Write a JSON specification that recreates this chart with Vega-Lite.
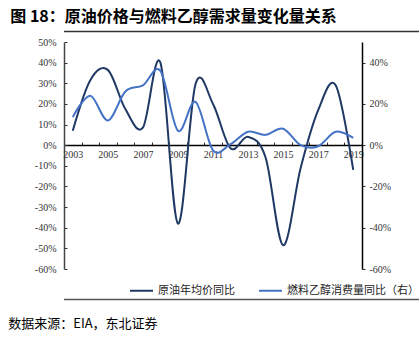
{
  "$schema": "https://vega.github.io/schema/vega-lite/v6.json",
  "padding": {"left": 7, "right": 0, "top": 8, "bottom": 0},
  "spacing": 4,
  "config": {
    "view": {"stroke": null},
    "font": "Noto Sans CJK SC",
    "axis": {"labelFont": "Liberation Serif", "labelFontSize": 10, "labelColor": "#333333", "domainColor": "#333333", "tickColor": "#333333", "domainWidth": 1.5, "tickWidth": 1, "grid": false, "title": null}
  },
  "datasets": {
    "frame": [{"a": 0, "b": 1}],
    "series": [
      {"year": "2003", "series": "原油年均价同比", "value": 7},
      {"year": "2004", "series": "原油年均价同比", "value": 31.5},
      {"year": "2005", "series": "原油年均价同比", "value": 36.5},
      {"year": "2006", "series": "原油年均价同比", "value": 17.5},
      {"year": "2007", "series": "原油年均价同比", "value": 8.5},
      {"year": "2008", "series": "原油年均价同比", "value": 40},
      {"year": "2009", "series": "原油年均价同比", "value": -38},
      {"year": "2010", "series": "原油年均价同比", "value": 29.5},
      {"year": "2011", "series": "原油年均价同比", "value": 20},
      {"year": "2012", "series": "原油年均价同比", "value": -1.5},
      {"year": "2013", "series": "原油年均价同比", "value": 4},
      {"year": "2014", "series": "原油年均价同比", "value": -6},
      {"year": "2015", "series": "原油年均价同比", "value": -48.5},
      {"year": "2016", "series": "原油年均价同比", "value": -11},
      {"year": "2017", "series": "原油年均价同比", "value": 17},
      {"year": "2018", "series": "原油年均价同比", "value": 29},
      {"year": "2019", "series": "原油年均价同比", "value": -12},
      {"year": "2003", "series": "燃料乙醇消费量同比（右）", "value": 13.6},
      {"year": "2004", "series": "燃料乙醇消费量同比（右）", "value": 24},
      {"year": "2005", "series": "燃料乙醇消费量同比（右）", "value": 12},
      {"year": "2006", "series": "燃料乙醇消费量同比（右）", "value": 26},
      {"year": "2007", "series": "燃料乙醇消费量同比（右）", "value": 29},
      {"year": "2008", "series": "燃料乙醇消费量同比（右）", "value": 36},
      {"year": "2009", "series": "燃料乙醇消费量同比（右）", "value": 7},
      {"year": "2010", "series": "燃料乙醇消费量同比（右）", "value": 21},
      {"year": "2011", "series": "燃料乙醇消费量同比（右）", "value": -2.5},
      {"year": "2012", "series": "燃料乙醇消费量同比（右）", "value": 0.5},
      {"year": "2013", "series": "燃料乙醇消费量同比（右）", "value": 6.5},
      {"year": "2014", "series": "燃料乙醇消费量同比（右）", "value": 5},
      {"year": "2015", "series": "燃料乙醇消费量同比（右）", "value": 8},
      {"year": "2016", "series": "燃料乙醇消费量同比（右）", "value": 0},
      {"year": "2017", "series": "燃料乙醇消费量同比（右）", "value": -0.5},
      {"year": "2018", "series": "燃料乙醇消费量同比（右）", "value": 6.5},
      {"year": "2019", "series": "燃料乙醇消费量同比（右）", "value": 3.5}
    ]
  },
  "vconcat": [
    {
      "width": 398,
      "height": 1,
      "title": {"text": "图 18：原油价格与燃料乙醇需求量变化量关系", "anchor": "start", "fontSize": 16, "fontWeight": "bold", "color": "#000000", "offset": 6, "dx": -53, "font": "Noto Sans CJK SC"},
      "data": {"name": "frame"},
      "mark": {"type": "rule", "strokeWidth": 1.5, "color": "#333333"},
      "encoding": {
        "x": {"field": "a", "type": "quantitative", "scale": {"domain": [0, 1]}, "axis": null},
        "x2": {"field": "b"}
      }
    },
    {
      "width": 298,
      "height": 227,
      "data": {"name": "series"},
      "encoding": {
        "x": {"field": "year", "type": "ordinal", "bandPosition": 0.5, "scale": {"type": "band", "paddingInner": 0, "paddingOuter": 0},
          "axis": {"offset": -124, "tickBand": "extent", "tickSize": -3, "labelPadding": 7, "labelAngle": 0, "labelExpr": "toNumber(datum.value) % 2 == 1 ? datum.value : ''", "domainColor": "#000000"}},
        "color": {"field": "series", "type": "nominal", "scale": {"domain": ["原油年均价同比", "燃料乙醇消费量同比（右）"], "range": ["#1F3864", "#4472C4"]},
          "legend": {"orient": "none", "direction": "horizontal", "legendX": 65, "legendY": 247, "title": null, "symbolType": "stroke", "symbolSize": 529, "symbolStrokeWidth": 2, "labelFontSize": 11, "labelFont": "Noto Sans CJK SC", "labelColor": "#222222", "columnPadding": 20}}
      },
      "layer": [
        {
          "transform": [{"filter": "datum.series == '原油年均价同比'"}],
          "mark": {"type": "line", "interpolate": "cardinal", "strokeWidth": 2},
          "encoding": {
            "y": {"field": "value", "type": "quantitative", "scale": {"domain": [-60, 50], "nice": false, "zero": false},
              "axis": {"orient": "left", "values": [-60, -50, -40, -30, -20, -10, 0, 10, 20, 30, 40, 50], "labelExpr": "datum.value + '%'", "tickSize": -3, "labelPadding": 11, "title": "\u3000", "titleFontSize": 10, "titlePadding": 17, "domainColor": "#444444"}}
          }
        },
        {
          "transform": [{"filter": "datum.series == '燃料乙醇消费量同比（右）'"}],
          "mark": {"type": "line", "interpolate": "cardinal", "strokeWidth": 2},
          "encoding": {
            "y": {"field": "value", "type": "quantitative", "scale": {"domain": [-60, 50], "nice": false, "zero": false},
              "axis": {"orient": "right", "values": [-60, -40, -20, 0, 20, 40], "labelExpr": "datum.value + '%'", "tickSize": 3, "labelPadding": 4, "domainColor": "#000000"}}
          }
        }
      ],
      "resolve": {"scale": {"y": "independent"}}
    },
    {
      "width": 398,
      "height": 16,
      "data": {"name": "frame"},
      "mark": {"type": "rule", "opacity": 0},
      "encoding": {
        "x": {"field": "a", "type": "quantitative", "scale": {"domain": [0, 1]}, "axis": null},
        "x2": {"field": "b"}
      }
    },
    {
      "width": 398,
      "height": 1,
      "title": {"text": "数据来源：EIA，东北证券", "orient": "bottom", "anchor": "start", "fontSize": 13, "fontWeight": "normal", "color": "#000000", "offset": 18, "dx": -55, "font": "Noto Sans CJK SC"},
      "data": {"name": "frame"},
      "mark": {"type": "rule", "strokeWidth": 1.5, "color": "#555555"},
      "encoding": {
        "x": {"field": "a", "type": "quantitative", "scale": {"domain": [0, 1]}, "axis": null},
        "x2": {"field": "b"}
      }
    }
  ]
}
